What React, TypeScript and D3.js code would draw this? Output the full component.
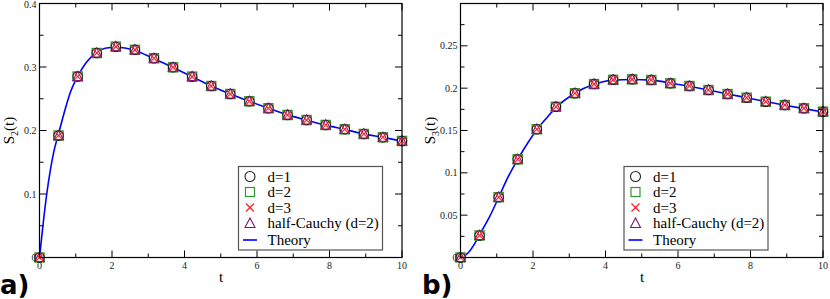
import * as d3 from "d3";

// sample times shared by all simulated series
const tValues = [0, 0.526, 1.053, 1.579, 2.105, 2.632, 3.158, 3.684, 4.211, 4.737, 5.263, 5.789, 6.316, 6.842, 7.368, 7.895, 8.421, 8.947, 9.474, 10];

// S2(t), panel a) - all four estimators overlap
const s2Values = [0, 0.192, 0.285, 0.322, 0.332, 0.327, 0.3137, 0.2995, 0.2848, 0.27, 0.2575, 0.246, 0.235, 0.2244, 0.2165, 0.2087, 0.2019, 0.1945, 0.1893, 0.1835];
const s2TheoryT = [0, 0.1, 0.2, 0.3, 0.4, 0.526, 0.7, 0.85, 1.053, 1.3, 1.579, 1.85, 2.105, 2.632, 3.158, 3.684, 4.211, 4.737, 5.263, 5.789, 6.316, 6.842, 7.368, 7.895, 8.421, 8.947, 9.474, 10];
const s2Theory = [0, 0.053, 0.1, 0.138, 0.168, 0.195, 0.232, 0.26, 0.285, 0.308, 0.323, 0.33, 0.331, 0.326, 0.313, 0.2993, 0.2846, 0.2702, 0.2575, 0.246, 0.2352, 0.2246, 0.2163, 0.2085, 0.2017, 0.1947, 0.1892, 0.1833];

// S3(t), panel b)
const s3Values = [0, 0.026, 0.0712, 0.116, 0.1515, 0.178, 0.194, 0.2048, 0.2098, 0.2104, 0.2096, 0.2057, 0.2025, 0.1978, 0.193, 0.1887, 0.184, 0.18, 0.1762, 0.1722];
const s3TheoryT = [0, 0.2, 0.4, 0.526, 0.8, 1.053, 1.3, 1.579, 1.85, 2.105, 2.4, 2.632, 3.158, 3.684, 4.211, 4.737, 5.263, 5.789, 6.316, 6.842, 7.368, 7.895, 8.421, 8.947, 9.474, 10];
const s3Theory = [0, 0.005, 0.017, 0.027, 0.048, 0.071, 0.094, 0.116, 0.135, 0.151, 0.166, 0.177, 0.194, 0.2045, 0.2095, 0.2103, 0.2095, 0.2062, 0.2022, 0.1978, 0.1932, 0.1887, 0.1842, 0.1799, 0.1758, 0.1719];

const xTicks = [0, 2, 4, 6, 8, 10];
const xMinor = [1, 3, 5, 7, 9];
const s2Ticks = [0, 0.1, 0.2, 0.3, 0.4];
const s2Minor = [0.05, 0.15, 0.25, 0.35];
const s3Ticks = [0, 0.05, 0.1, 0.15, 0.2, 0.25, 0.3];
const s3Labels = ["0", "0.05", "0.1", "0.15", "0.2", "0.25", ""];
const s3Minor = [0.025, 0.075, 0.125, 0.175, 0.225, 0.275];

const legendLabels = ["d=1", "d=2", "d=3", "half-Cauchy (d=2)", "Theory"];

const SERIF = "Liberation Serif, Times New Roman, serif";
const GREEN = "#2f9a2f";
const RED = "#ff2020";
const PURPLE = "#7a1a70";
const BLUE = "#0000ff";

function Marker({ x, y }) {
  return (
    <g>
      <rect x={x - 4.6} y={y - 4.6} width={9.2} height={9.2} fill="white" stroke={GREEN} strokeWidth={1.3} />
      <circle cx={x} cy={y} r={4.7} fill="white" stroke="#111" strokeWidth={1.1} />
      <path d={`M${x - 4.8},${y + 4}L${x},${y - 5.2}L${x + 4.8},${y + 4}Z`} fill="none" stroke={PURPLE} strokeWidth={1.1} />
      <path d={`M${x - 3.6},${y - 3.6}L${x + 3.6},${y + 3.6}M${x - 3.6},${y + 3.6}L${x + 3.6},${y - 3.6}`} stroke={RED} strokeWidth={1.2} />
    </g>
  );
}

function Panel({ x0, x1, y0, y1, yMax, yTicks, yLabels, yMinor, values, theoryT, theory, ylab, sub, tag, tagX, legX, labX }) {
  const x = d3.scaleLinear().domain([0, 10]).range([x0, x1]);
  const y = d3.scaleLinear().domain([0, yMax]).range([y1, y0]);
  const line = d3.line<number>().x((_, i) => x(theoryT[i])).y((d) => y(d)).curve(d3.curveMonotoneX);
  const major = 7;
  const minor = 4;
  const legTop = 166.5;
  const legRow = 15.5;

  return (
    <g>
      <path d={line(theory) || ""} fill="none" stroke={BLUE} strokeWidth={1.6} />
      {values.map((v, i) => (
        <Marker key={i} x={x(tValues[i])} y={y(v)} />
      ))}

      <rect x={x0} y={y0} width={x1 - x0} height={y1 - y0} fill="none" stroke="#000" strokeWidth={1.2} />

      {xTicks.map((t) => (
        <g key={"xt" + t}>
          <line x1={x(t)} x2={x(t)} y1={y1} y2={y1 - major} stroke="#000" />
          <line x1={x(t)} x2={x(t)} y1={y0} y2={y0 + major} stroke="#000" />
          <text x={x(t)} y={y1 + 11} textAnchor="middle" fontFamily={SERIF} fontSize={10} fill="#222">{t}</text>
        </g>
      ))}
      {xMinor.map((t) => (
        <g key={"xm" + t}>
          <line x1={x(t)} x2={x(t)} y1={y1} y2={y1 - minor} stroke="#000" />
          <line x1={x(t)} x2={x(t)} y1={y0} y2={y0 + minor} stroke="#000" />
        </g>
      ))}
      {yTicks.map((v, i) => (
        <g key={"yt" + v}>
          <line x1={x0} x2={x0 + major} y1={y(v)} y2={y(v)} stroke="#000" />
          <line x1={x1} x2={x1 - major} y1={y(v)} y2={y(v)} stroke="#000" />
          <text x={x0 - 3} y={Math.max(y(v) + 3.5, 8)} textAnchor="end" fontFamily={SERIF} fontSize={10} fill="#222">{yLabels[i]}</text>
        </g>
      ))}
      {yMinor.map((v) => (
        <g key={"ym" + v}>
          <line x1={x0} x2={x0 + minor} y1={y(v)} y2={y(v)} stroke="#000" />
          <line x1={x1} x2={x1 - minor} y1={y(v)} y2={y(v)} stroke="#000" />
        </g>
      ))}

      <text x={labX} y={282} textAnchor="middle" fontFamily={SERIF} fontSize={15}>t</text>
      <text transform={`translate(${x0 - 26},${(y0 + y1) / 2}) rotate(-90)`} textAnchor="middle" fontFamily={SERIF} fontSize={15}>
        {ylab}
        <tspan fontSize={10} dy={4}>{sub}</tspan>
        <tspan dy={-4}>(t)</tspan>
      </text>

      <text x={tagX} y={294} fontFamily="DejaVu Sans, sans-serif" fontWeight="bold" fontSize={26}>{tag}</text>

      <rect x={legX} y={legTop} width={144} height={83.5} fill="white" stroke="#555" strokeWidth={1.2} />
      {legendLabels.map((lab, i) => {
        const cy = legTop + 10 + i * legRow + (i === 4 ? 1.5 : 0);
        const sx = legX + 11.5;
        return (
          <g key={lab}>
            {i === 0 && <circle cx={sx} cy={cy} r={5} fill="none" stroke="#222" strokeWidth={1.1} />}
            {i === 1 && <rect x={sx - 4.5} y={cy - 4.5} width={9} height={9} fill="none" stroke={GREEN} strokeWidth={1.2} />}
            {i === 2 && <path d={`M${sx - 4},${cy - 4}L${sx + 4},${cy + 4}M${sx - 4},${cy + 4}L${sx + 4},${cy - 4}`} stroke={RED} strokeWidth={1.2} />}
            {i === 3 && <path d={`M${sx - 5},${cy + 4.5}L${sx},${cy - 5}L${sx + 5},${cy + 4.5}Z`} fill="none" stroke={PURPLE} strokeWidth={1.1} />}
            {i === 4 && <line x1={sx - 7} x2={sx + 7} y1={cy} y2={cy} stroke={BLUE} strokeWidth={1.6} />}
            <text x={legX + 29} y={cy + 5} fontFamily={SERIF} fontSize={15}>{lab}</text>
          </g>
        );
      })}
    </g>
  );
}

export default function App() {
  return (
    <svg width={830} height={299} style={{ position: "absolute", left: 0, top: 0, background: "white" }}>
      <rect width={830} height={299} fill="white" />
      <Panel x0={39.5} x1={402} y0={3.5} y1={257.5} yMax={0.4} yTicks={s2Ticks} yLabels={s2Ticks.map(String)} yMinor={s2Minor}
        values={s2Values} theoryT={s2TheoryT} theory={s2Theory} ylab="S" sub="2" tag="a)" tagX={0} legX={238.5} labX={221} />
      <Panel x0={460.5} x1={823} y0={3.5} y1={257.5} yMax={0.3} yTicks={s3Ticks} yLabels={s3Labels} yMinor={s3Minor}
        values={s3Values} theoryT={s3TheoryT} theory={s3Theory} ylab="S" sub="3" tag="b)" tagX={422} legX={624} labX={642} />
    </svg>
  );
}
